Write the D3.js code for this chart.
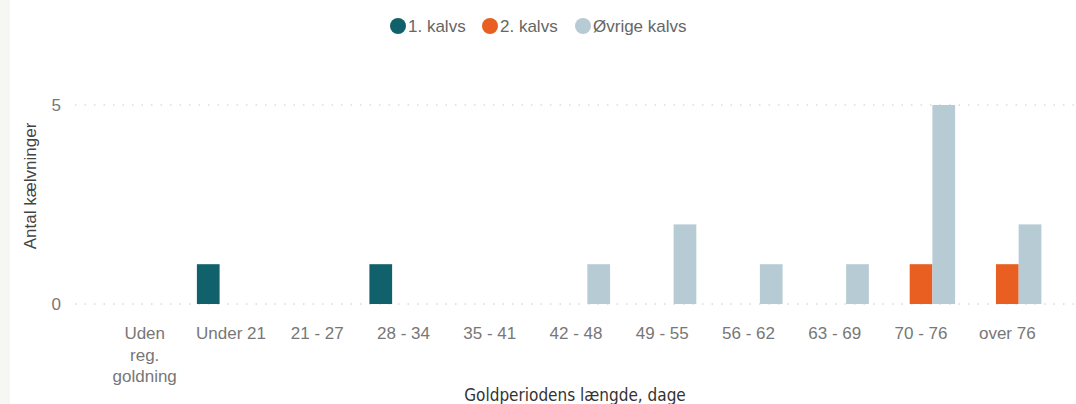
<!DOCTYPE html>
<html>
<head>
<meta charset="utf-8">
<script src="https://cdn.jsdelivr.net/npm/d3@7.9.0/dist/d3.min.js"></script>
<style>
  body { margin: 0; background: #fff; }
  svg { display: block; }
</style>
</head>
<body>
<svg id="chart" width="1076" height="404"></svg>
<script>
// ====== DATA ======
const categories = [
  "Uden reg. goldning", "Under 21", "21 - 27", "28 - 34", "35 - 41",
  "42 - 48", "49 - 55", "56 - 62", "63 - 69", "70 - 76", "over 76"
];
const seriesNames = ["1. kalvs", "2. kalvs", "Øvrige kalvs"];
const firstCalf = [0, 1, 0, 1, 0, 0, 0, 0, 0, 0, 0];
const secondCalf = [0, 0, 0, 0, 0, 0, 0, 0, 0, 1, 1];
const otherCalf = [0, 0, 0, 0, 0, 1, 2, 1, 1, 5, 2];
const yTicks = [0, 5];
const colors = ["#11616c", "#e85f21", "#b6cbd3"];

const seriesValues = [firstCalf, secondCalf, otherCalf];

const svg = d3.select("#chart");
const W = 1076, H = 404;
const font = "'Liberation Sans', Arial, sans-serif";

// left light strip
svg.append("rect").attr("x", 0).attr("y", 0).attr("width", 10).attr("height", H)
  .attr("fill", "#f6f6f2");

// ====== SCALES ======
const x0 = d3.scaleBand().domain(categories).range([102, 1050])
  .paddingInner(0.21).paddingOuter(0.1);
const x1 = d3.scaleBand().domain(seriesNames).range([0, x0.bandwidth()]);
const y = d3.scaleLinear().domain([0, 5]).range([304, 105]);

// ====== GRID ======
svg.append("g")
  .selectAll("line")
  .data(yTicks)
  .join("line")
  .attr("x1", 75).attr("x2", W)
  .attr("y1", d => y(d)).attr("y2", d => y(d))
  .attr("stroke", "#c8c8c8")
  .attr("stroke-width", 1)
  .attr("stroke-dasharray", "1.5,8");

// y tick labels
svg.append("g")
  .selectAll("text")
  .data(yTicks)
  .join("text")
  .attr("x", 61).attr("y", d => y(d))
  .attr("dy", "0.35em")
  .attr("text-anchor", "end")
  .attr("font-family", font).attr("font-size", 17)
  .attr("fill", "#777")
  .text(d => d);

// y title
svg.append("text")
  .attr("transform", "translate(36,186) rotate(-90)")
  .attr("text-anchor", "middle")
  .attr("font-family", font).attr("font-size", 17)
  .attr("fill", "#444")
  .text("Antal kælvninger");

// ====== BARS ======
const groups = svg.append("g")
  .selectAll("g")
  .data(categories)
  .join("g")
  .attr("transform", d => `translate(${x0(d)},0)`);

groups.selectAll("rect")
  .data((c, i) => seriesNames.map((s, j) => ({ s, j, v: seriesValues[j][i] })).filter(d => d.v > 0))
  .join("rect")
  .attr("x", d => x1(d.s))
  .attr("width", x1.bandwidth())
  .attr("y", d => y(d.v))
  .attr("height", d => y(0) - y(d.v))
  .attr("fill", d => colors[d.j]);

// ====== X LABELS ======
const xLabels = svg.append("g");
categories.forEach(c => {
  const words = c === "Uden reg. goldning" ? ["Uden", "reg.", "goldning"] : [c];
  const t = xLabels.append("text")
    .attr("x", x0(c) + x0.bandwidth() / 2)
    .attr("y", 339)
    .attr("text-anchor", "middle")
    .attr("font-family", font).attr("font-size", 17)
    .attr("fill", "#777");
  words.forEach((w, i) => {
    t.append("tspan")
      .attr("x", x0(c) + x0.bandwidth() / 2)
      .attr("dy", i === 0 ? 0 : 21.5)
      .text(w);
  });
});

// x title
svg.append("text")
  .attr("x", 575).attr("y", 401)
  .attr("text-anchor", "middle")
  .attr("font-family", "'DejaVu Sans Condensed', Roboto, sans-serif").attr("font-size", 17)
  .attr("fill", "#333")
  .text("Goldperiodens længde, dage");

// ====== LEGEND ======
const legendX = [398, 490, 583];
const legend = svg.append("g");
seriesNames.forEach((s, i) => {
  legend.append("circle")
    .attr("cx", legendX[i]).attr("cy", 26).attr("r", 8)
    .attr("fill", colors[i]);
  legend.append("text")
    .attr("x", legendX[i] + 10).attr("y", 26)
    .attr("dy", "0.35em")
    .attr("font-family", font).attr("font-size", 17)
    .attr("fill", "#666")
    .text(s);
});
</script>
</body>
</html>
